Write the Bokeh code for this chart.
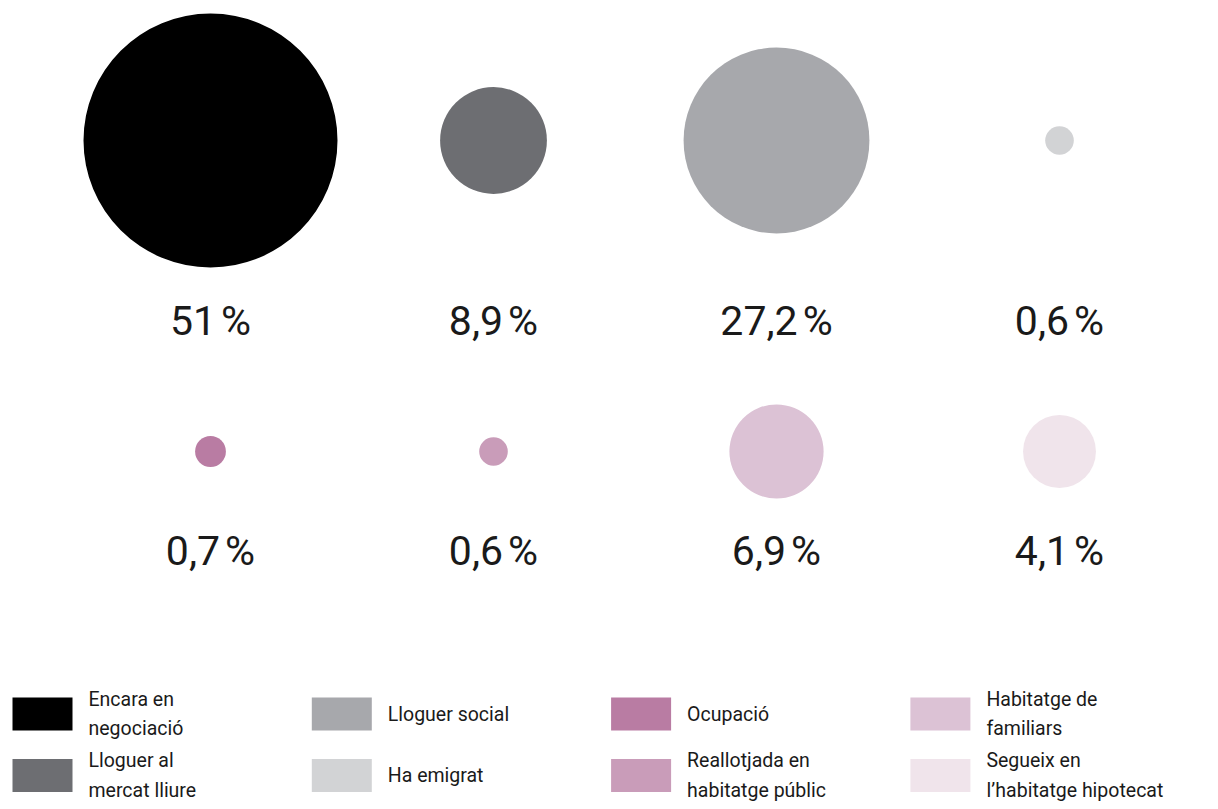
from bokeh.plotting import figure
from bokeh.models import Range1d, ColumnDataSource
from bokeh.core.properties import value
from bokeh.embed import file_html
from bokeh.resources import INLINE
import numpy as np

# ---- data ----
categories = ["Encara en\nnegociació", "Lloguer al\nmercat lliure", "Lloguer social", "Ha emigrat",
              "Ocupació", "Reallotjada en\nhabitatge públic", "Habitatge de\nfamiliars",
              "Segueix en\nl’habitatge hipotecat"]
values = [51, 8.9, 27.2, 0.6, 0.7, 0.6, 6.9, 4.1]
labels = ["51\u202f%", "8,9\u202f%", "27,2\u202f%", "0,6\u202f%", "0,7\u202f%", "0,6\u202f%", "6,9\u202f%", "4,1\u202f%"]
colors = ["#000000", "#6d6e72", "#a7a8ac", "#d2d3d5", "#b97ca3", "#c99cb9", "#dcc2d5", "#f0e4eb"]

W, H = 1210, 801
p = figure(width=W, height=H, output_backend="svg", toolbar_location=None,
           x_range=Range1d(0, W), y_range=Range1d(H, 0), min_border=0)
p.axis.visible = False
p.grid.visible = False
p.outline_line_color = None
p.background_fill_color = "white"

n = len(values)
col = np.arange(n) % 4
row = np.arange(n) // 4
cx = 210 + col * 283
cy = 140 + row * 311
ly = 320 + row * 230
radius = 17.7 * np.sqrt(np.array(values)) + 0.6

src = ColumnDataSource(dict(x=cx, y=cy, r=radius, c=colors, ly=ly, lab=labels))
p.circle(x="x", y="y", radius="r", fill_color="c", line_color=None, source=src)
p.text(x="x", y="ly", text="lab", source=src, text_align="center", text_baseline="middle",
       text_font=value("Roboto"), text_font_size="41px", text_color="#1a1a1a")

# legend: columns ordered down then across
lcol = np.arange(n) // 2
lrow = np.arange(n) % 2
sx = 12 + lcol * 299.3
sy = 713.5 + lrow * 61.5
lsrc = ColumnDataSource(dict(x=sx + 30, y=sy, c=colors, t=categories, tx=sx + 76))
p.rect(x="x", y="y", width=60, height=33, fill_color="c", line_color=None, source=lsrc)
p.text(x="tx", y="y", text="t", source=lsrc, text_align="left", text_baseline="middle",
       text_font=value("Roboto"), text_font_size="19.5px", text_color="#1a1a1a",
       text_line_height=1.28)

open("out.html", "w").write(file_html(p, INLINE))
